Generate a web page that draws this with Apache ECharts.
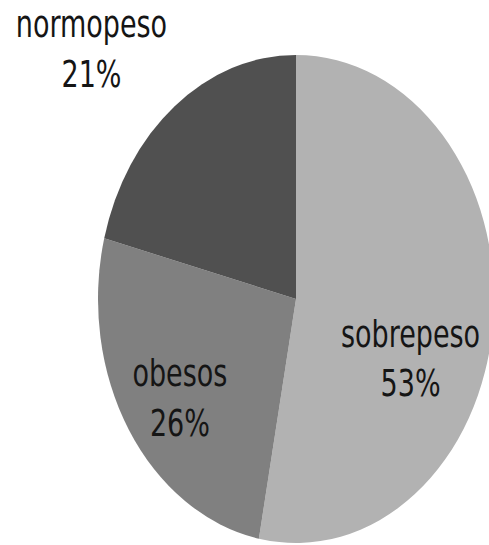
<!DOCTYPE html>
<html>
<head>
<meta charset="utf-8">
<script src="https://cdn.jsdelivr.net/npm/echarts@6/dist/echarts.min.js"></script>
<style>
  html, body { margin: 0; padding: 0; background: #ffffff; overflow: hidden; }
  #wrap { width: 489px; height: 545px; overflow: hidden; }
  /* the pie is drawn round and stretched vertically into an oval */
  #chart { width: 489px; height: 442.3px; transform: scaleY(1.2323); transform-origin: 0 0; }
</style>
</head>
<body>
<div id="wrap"><div id="chart"></div></div>
<script>
// Weight categories and their shares (%)
const categories = ['sobrepeso', 'obesos', 'normopeso'];
const shares = [53, 26, 21];
const sliceColors = ['#b2b2b2', '#808080', '#505050'];
// label nudges [dx, dy] from the default inside position
const labelNudges = [[13, 39], [-30, 26], [-142, -122]];

const chart = echarts.init(document.getElementById('chart'), null, { renderer: 'svg' });

chart.setOption({
  animation: false,
  backgroundColor: '#ffffff',
  series: [{
    type: 'pie',
    center: [296, 242.6],
    radius: [0, 198],
    startAngle: 90,
    clockwise: true,
    avoidLabelOverlap: false,
    silent: true,
    itemStyle: { borderWidth: 0 },
    label: {
      show: true,
      position: 'inside',
      formatter: p => p.name + '\n' + p.value + '%',
      fontFamily: "'Liberation Sans Narrow', 'DejaVu Sans Condensed', 'Open Sans', sans-serif",
      fontSize: 30,
      lineHeight: 40,
      color: '#151515',
      align: 'center'
    },
    labelLine: { show: false },
    labelLayout: p => ({ dx: labelNudges[p.dataIndex][0], dy: labelNudges[p.dataIndex][1] }),
    emphasis: { disabled: true },
    data: categories.map((c, i) => ({ name: c, value: shares[i], itemStyle: { color: sliceColors[i] } }))
  }]
});
</script>
</body>
</html>
